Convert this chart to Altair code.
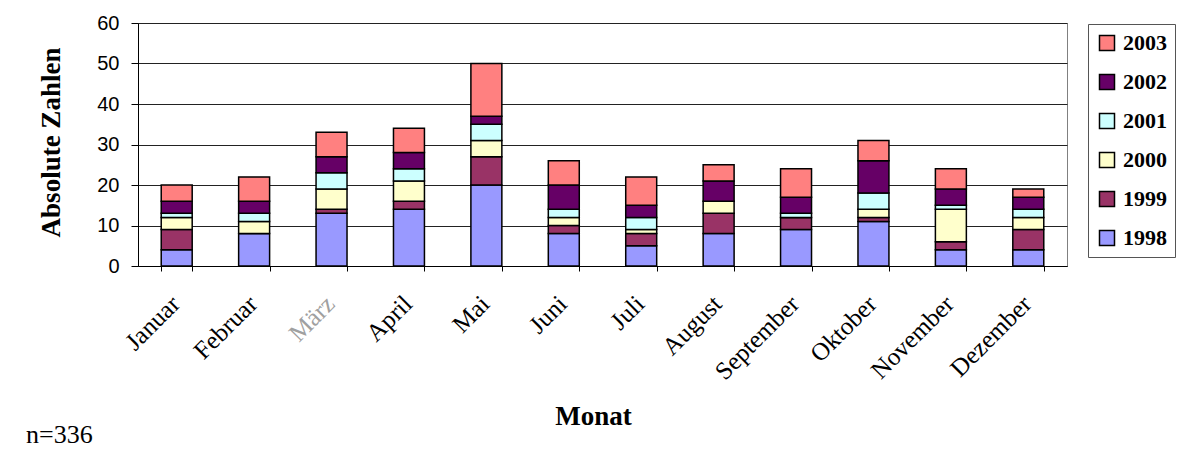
import altair as alt
import pandas as pd

months = ["Januar", "Februar", "März", "April", "Mai", "Juni", "Juli",
          "August", "September", "Oktober", "November", "Dezember"]
years = ["1998", "1999", "2000", "2001", "2002", "2003"]
v1998 = [4, 8, 13, 14, 20, 8, 5, 8, 9, 11, 4, 4]
v1999 = [5, 0, 1, 2, 7, 2, 3, 5, 3, 1, 2, 5]
v2000 = [3, 3, 5, 5, 4, 2, 1, 3, 0, 2, 8, 3]
v2001 = [1, 2, 4, 3, 4, 2, 3, 0, 1, 4, 1, 2]
v2002 = [3, 3, 4, 4, 2, 6, 3, 5, 4, 8, 4, 3]
v2003 = [4, 6, 6, 6, 13, 6, 7, 4, 7, 5, 5, 2]
colors = ["#9999FF", "#993366", "#FFFFCC", "#CCFFFF", "#660066", "#FF8080"]
y_ticks = [0, 10, 20, 30, 40, 50, 60]
note = ["n=336"]

series = [v1998, v1999, v2000, v2001, v2002, v2003]
rows = []
for yi, (yr, vals) in enumerate(zip(years, series)):
    for m, v in zip(months, vals):
        rows.append({"Monat": m, "Jahr": yr, "Anzahl": v, "idx": yi})
df = pd.DataFrame(rows)

SERIF = "Liberation Serif"
SANS = "Liberation Sans"

bars = alt.Chart(df).mark_bar(stroke="black", strokeWidth=1.5).encode(
    x=alt.X(
        "Monat:N", sort=months,
        scale=alt.Scale(paddingInner=0.6, paddingOuter=0.3),
        axis=alt.Axis(
            title="Monat", titleFont=SERIF, titleFontWeight="bold", titleFontSize=27,
            titleX=455, titleY=158, titleAlign="center", titleBaseline="alphabetic",
            labelAngle=315, labelFont=SERIF, labelFontSize=25, labelAlign="right",
            labelBaseline="top", labelPadding=20, labelOffset=-10, labelOverlap=False,
            labelColor={"expr": "datum.value == 'März' ? '#a0a0a0' : '#000000'"},
            tickBand="extent", tickSize=5, tickColor="black", domainColor="black",
            grid=False,
        ),
    ),
    y=alt.Y(
        "Anzahl:Q", stack="zero",
        scale=alt.Scale(domain=[0, 60], nice=False),
        axis=alt.Axis(
            values=y_ticks, title="Absolute Zahlen", titleFont=SERIF,
            titleFontWeight="bold", titleFontSize=27, titleAngle=270,
            titleX=-79, titleY=119, titleAlign="center", titleBaseline="alphabetic",
            labelFont=SANS, labelFontSize=20, labelColor="black", labelPadding=12,
            tickSize=7, tickColor="black", domainColor="black",
            gridColor="#222222", gridWidth=1,
        ),
    ),
    color=alt.Color(
        "Jahr:N",
        scale=alt.Scale(domain=years[::-1], range=colors[::-1]),
        legend=alt.Legend(
            title=None, orient="none", legendX=950, legendY=1,
            padding=8, rowPadding=17, strokeColor="#555555",
            symbolType="square", symbolSize=225, symbolStrokeColor="black",
            symbolStrokeWidth=1.5, symbolOpacity=1, labelFont=SERIF,
            labelFontWeight="bold", labelFontSize=22, labelColor="black",
            labelOffset=5,
        ),
    ),
    order=alt.Order("idx:Q", sort="ascending"),
)

note_df = pd.DataFrame({"t": note})
note_mark = alt.Chart(note_df).mark_text(
    align="left", baseline="alphabetic", font=SERIF, fontSize=26, color="black"
).encode(x=alt.value(-112), y=alt.value(420), text="t:N")

chart = alt.layer(bars, note_mark).properties(
    width=929, height=243,
    autosize=alt.AutoSizeParams(type="none"),
    padding={"left": 130, "top": 15, "right": 121, "bottom": 186},
).configure_view(stroke="#808080", strokeWidth=1)

chart.save("out.html", embed_options={"renderer": "svg", "actions": False})
